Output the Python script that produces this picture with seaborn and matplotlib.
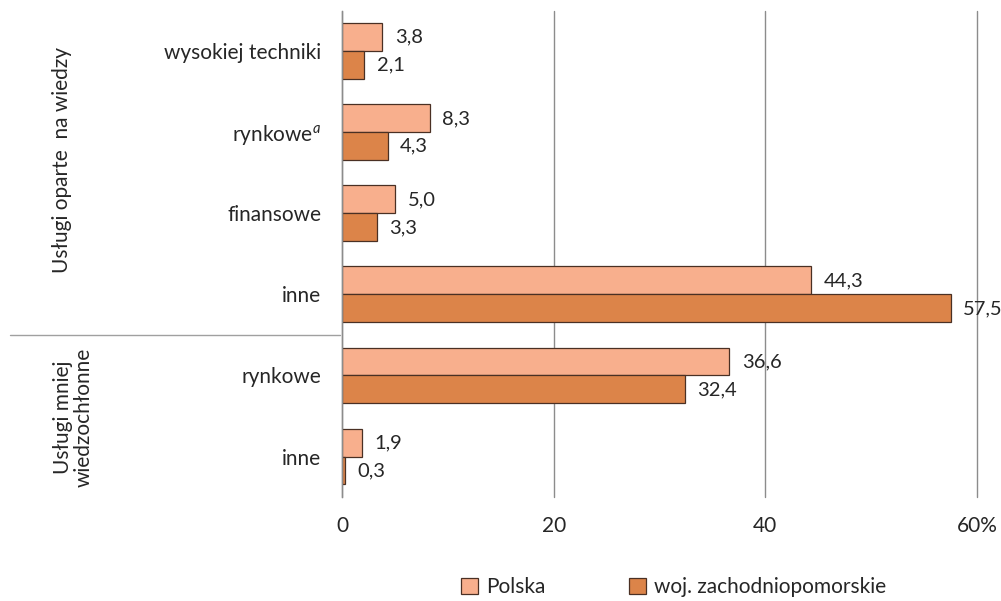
import pandas as pd
import matplotlib.pyplot as plt
import seaborn as sns
from matplotlib.lines import Line2D

# Data
categories = ["wysokiej techniki", "rynkowe_a", "finansowe", "inne_1", "rynkowe_2", "inne_2"]
tick_labels = ["wysokiej techniki", "rynkowe$^{a}$", "finansowe", "inne", "rynkowe", "inne"]
series = ["Polska", "woj. zachodniopomorskie"]
polska = [3.8, 8.3, 5.0, 44.3, 36.6, 1.9]
zachodniopomorskie = [2.1, 4.3, 3.3, 57.5, 32.4, 0.3]
group_labels = ["Usługi oparte  na wiedzy", "Usługi mniej\nwiedzochłonne"]
x_ticks = [0, 20, 40, 60]
x_ticklabels = ["0", "20", "40", "60%"]

df = pd.DataFrame({
    "kategoria": categories * 2,
    "seria": [series[0]] * len(categories) + [series[1]] * len(categories),
    "wartosc": polska + zachodniopomorskie,
})

sns.set_style("white")
plt.rcParams["font.family"] = ["Lato", "DejaVu Sans"]
plt.rcParams["mathtext.fontset"] = "custom"
plt.rcParams["mathtext.rm"] = "Lato"
plt.rcParams["mathtext.it"] = "Lato:italic"

colors = ["#F8AF8D", "#DC8449"]
edge = "#4a3024"
text_color = "#262626"
fs = 15

fig = plt.figure(figsize=(10.01, 6.01), dpi=100)
ax = fig.add_axes([0.3417, 0.173, 0.6343, 0.809])

sns.barplot(data=df, y="kategoria", x="wartosc", hue="seria", order=categories,
            hue_order=series, palette=colors, saturation=1, orient="h", width=0.69,
            edgecolor=edge, linewidth=0.9, ax=ax, legend=False)

for cont in ax.containers:
    ax.bar_label(cont, labels=[f"{v:.1f}".replace(".", ",") for v in cont.datavalues],
                 padding=9, fontsize=14.5, color=text_color)

ax.set_xlim(0, 60)
ax.set_ylim(5.5, -0.5)
ax.set_xticks(x_ticks)
ax.set_xticklabels(x_ticklabels, fontsize=fs, color=text_color)
ax.set_yticks(range(len(categories)))
ax.set_yticklabels(tick_labels, fontsize=fs, color=text_color)
ax.tick_params(axis="y", length=0, pad=15)
ax.tick_params(axis="x", length=0, pad=14)
ax.set_xlabel("")
ax.set_ylabel("")

ax.xaxis.grid(True, color="#8c8c8c", linewidth=1)
for gl in ax.get_xgridlines():
    gl.set_clip_on(False)
ax.set_axisbelow(True)
for s in ["top", "right", "bottom"]:
    ax.spines[s].set_visible(False)
ax.spines["left"].set_color("#8c8c8c")
ax.spines["left"].set_linewidth(1)

# group labels and separator
fig.text(0.062, 1 - 160 / 601, group_labels[0], rotation=90, ha="center", va="center",
         fontsize=fs, color=text_color)
fig.text(0.073, 1 - 417 / 601, group_labels[1], rotation=90, ha="center", va="center",
         fontsize=fs, color=text_color, linespacing=1.05)
fig.add_artist(Line2D([0.01, 0.34], [1 - 335 / 601, 1 - 335 / 601], color="#a0a0a0", linewidth=1))

# legend
handles = [plt.Rectangle((0, 0), 1, 1, facecolor=c, edgecolor=edge, linewidth=0.9) for c in colors]
fig.legend(handles, series, loc="center", bbox_to_anchor=(0.673, 1 - 587 / 601), ncol=2,
           frameon=False, fontsize=fs, handlelength=0.8, handleheight=0.8,
           handletextpad=0.4, columnspacing=4.0, labelcolor=text_color)

plt.savefig("out.png", dpi=100)
